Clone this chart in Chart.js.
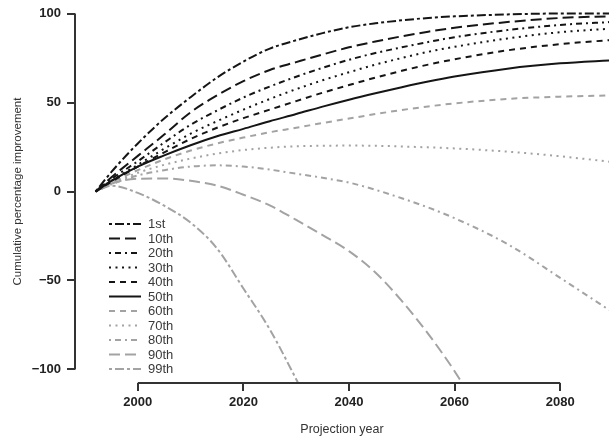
<!DOCTYPE html>
<html>
<head>
<meta charset="utf-8">
<title>Cumulative percentage improvement</title>
<script src="https://cdn.jsdelivr.net/npm/chart.js@4.4.1/dist/chart.umd.min.js"></script>
<style>
    html, body { margin: 0; padding: 0; background: #fff; }
    #wrap { width: 609px; height: 437px; }
</style>
</head>
<body>
<div id="wrap"><canvas id="grafico"></canvas></div>
<script>
// projection years and percentile curves
const anos = [1992, 1995, 2000, 2005, 2010, 2015, 2020, 2025, 2030, 2035, 2040, 2045, 2050, 2055, 2060, 2070, 2080, 2090];

const p01 = [0, 11, 27, 41, 53, 64, 73, 80.3, 85, 89, 92.3, 94.5, 96.2, 97.5, 98.4, 99.5, 100, 100];
const p10 = [0, 8, 20, 32, 44.5, 54, 62, 68.3, 72.7, 77, 81, 84.3, 87.2, 89.8, 92, 95.2, 97.5, 98.5];
const p20 = [0, 7, 17, 27.5, 37.5, 45.5, 52.8, 59, 64.5, 69.5, 74, 77.8, 81, 84, 86.7, 90.7, 93.6, 95.3];
const p30 = [0, 6, 15, 24, 32.5, 39.5, 46, 52, 57.5, 62.5, 67, 71.3, 75, 78.5, 81.3, 86, 89.5, 91.6];
const p40 = [0, 5.5, 14, 22, 29.5, 35.8, 41.2, 46, 50.8, 55.5, 59.8, 64, 67.8, 71.3, 74.3, 79.3, 82.8, 85.2];
const p50 = [0, 6, 14, 20.3, 26, 31, 35.2, 39.5, 43.5, 47.7, 51.6, 55.2, 58.6, 61.8, 64.6, 69, 72, 73.8];
const p60 = [0, 5, 12, 18, 23, 27, 30.3, 33.3, 35.8, 38.5, 41, 43.5, 45.8, 47.8, 49.5, 52, 53.3, 54];
const p70 = [0, 4.5, 10.5, 15, 18.5, 21.3, 23.3, 24.6, 25.4, 25.7, 25.8, 25.7, 25.3, 24.8, 24.2, 22.4, 19.8, 16.5];
const p80 = [0, 4, 9, 12, 14, 14.7, 14, 12.3, 10, 7.7, 5, 1, -3.8, -9, -15, -29.5, -48.5, -68];
const p90 = [0, 4.5, 7.2, 7.3, 6, 3.3, -1.8, -7.8, -16, -24.5, -33.5, -45.5, -61.5, -80, -101, -150, null, null];
const p99 = [0, 3.2, -0.8, -8, -17.5, -32, -54.5, -77.5, -105.5, -135, null, null, null, null, null, null, null, null];

const rotulos = ['1st', '10th', '20th', '30th', '40th', '50th', '60th', '70th', '80th', '90th', '99th'];
const valores = [p01, p10, p20, p30, p40, p50, p60, p70, p80, p90, p99];

const ticksX = [2000, 2020, 2040, 2060, 2080];
const ticksY = [-100, -50, 0, 50, 100];

// R line types
const TWODASH = [3, 3, 9, 3];
const LONGDASH = [11, 5];
const DOTDASH = [2, 4, 6, 4];
const DOTTED = [2, 4.5];
const DASHED = [6, 5];
const SOLID = [];

const PRETO = '#151515';
const CINZA = '#a3a3a3';

const estilos = [
    [PRETO, TWODASH], [PRETO, LONGDASH], [PRETO, DOTDASH], [PRETO, DOTTED], [PRETO, DASHED], [PRETO, SOLID],
    [CINZA, DASHED], [CINZA, DOTTED], [CINZA, DOTDASH], [CINZA, LONGDASH], [CINZA, TWODASH]
];

Chart.defaults.font.family = '"Liberation Sans", Arial, Helvetica, sans-serif';
Chart.defaults.color = '#222';

const datasets = rotulos.map((rotulo, i) => ({
    label: rotulo,
    data: anos
        .map((ano, j) => ({ x: ano, y: valores[i][j] }))
        .filter(p => p.y !== null),
    borderColor: estilos[i][0],
    borderDash: estilos[i][1],
    borderWidth: 2,
    borderCapStyle: 'butt',
    pointRadius: 0,
    fill: false,
    cubicInterpolationMode: 'monotone'
}));

// legend drawn R-style: no box, inside the plot
const legendaR = {
    id: 'legendaR',
    afterDatasetsDraw(chart) {
        const ctx = chart.ctx;
        ctx.save();
        ctx.font = '13px "Liberation Sans", Arial, sans-serif';
        ctx.textBaseline = 'middle';
        chart.data.datasets.forEach((ds, i) => {
            const y = 224 + i * 14.5;
            ctx.strokeStyle = ds.borderColor;
            ctx.lineWidth = ds.borderWidth;
            ctx.setLineDash(ds.borderDash);
            ctx.beginPath();
            ctx.moveTo(109, y);
            ctx.lineTo(141, y);
            ctx.stroke();
            ctx.setLineDash([]);
            ctx.fillStyle = '#3a3a3a';
            ctx.fillText(ds.label, 148, y + 0.5);
        });
        ctx.restore();
    }
};

// axis lines only between the first and last tick, like base R
const eixosR = {
    id: 'eixosR',
    afterDraw(chart) {
        const { ctx, chartArea, scales: { x, y } } = chart;
        ctx.save();
        ctx.strokeStyle = '#333';
        ctx.lineWidth = 2;
        ctx.beginPath();
        ctx.moveTo(chartArea.left, y.getPixelForValue(ticksY[0]));
        ctx.lineTo(chartArea.left, y.getPixelForValue(ticksY[ticksY.length - 1]));
        ctx.moveTo(x.getPixelForValue(ticksX[0]), chartArea.bottom);
        ctx.lineTo(x.getPixelForValue(ticksX[ticksX.length - 1]), chartArea.bottom);
        ctx.stroke();
        ctx.restore();
    }
};

new Chart(document.getElementById('grafico'), {
    type: 'line',
    data: { datasets },
    plugins: [legendaR, eixosR],
    options: {
        responsive: true,
        maintainAspectRatio: false,
        animation: false,
        layout: { padding: 0 },
        plugins: {
            legend: { display: false },
            tooltip: { enabled: false }
        },
        scales: {
            x: {
                type: 'linear',
                min: 1988.1,
                max: 2089.25,
                afterBuildTicks: s => { s.ticks = ticksX.map(v => ({ value: v })); },
                afterFit: s => { s.height = 54; s.paddingLeft = 0; s.paddingRight = 0; },
                grid: { drawOnChartArea: false, drawTicks: true, tickLength: 8, lineWidth: 2, color: '#333' },
                border: { display: false },
                ticks: {
                    padding: 4,
                    maxRotation: 0,
                    color: '#222',
                    font: { size: 13, weight: 'bold' },
                    callback: v => String(v)
                },
                title: {
                    display: true,
                    text: 'Projection year',
                    color: '#333',
                    padding: { top: 0, bottom: 0 },
                    font: { size: 12.5 }
                }
            },
            y: {
                type: 'linear',
                min: -107.6,
                max: 107.6,
                afterBuildTicks: s => { s.ticks = ticksY.map(v => ({ value: v })); },
                afterFit: s => { s.width = 75; s.paddingTop = 0; s.paddingBottom = 0; },
                grid: { drawOnChartArea: false, drawTicks: true, tickLength: 8, lineWidth: 2, color: '#333' },
                border: { display: false },
                ticks: {
                    padding: 6,
                    color: '#222',
                    font: { size: 13, weight: 'bold' },
                    callback: v => v < 0 ? '\u2212' + Math.abs(v) : String(v)
                },
                title: {
                    display: true,
                    text: 'Cumulative percentage improvement',
                    color: '#333',
                    padding: { top: 11, bottom: 0 },
                    font: { size: 11.5 }
                }
            }
        }
    }
});
</script>
</body>
</html>
